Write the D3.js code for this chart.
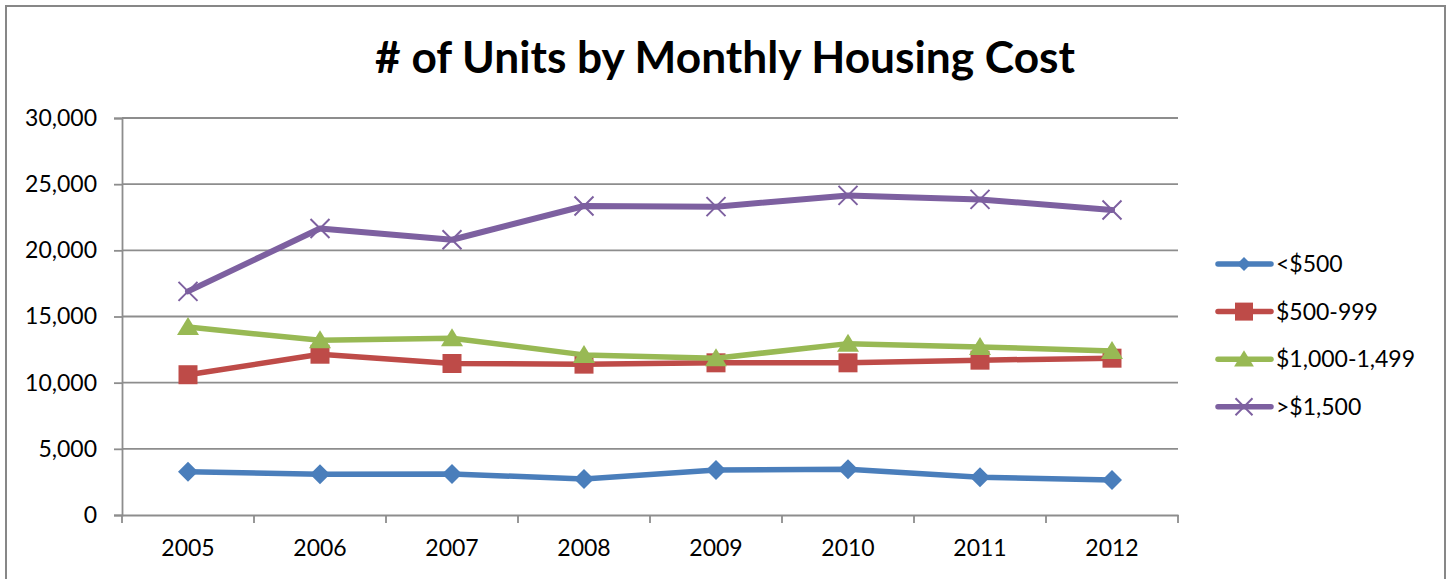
<!DOCTYPE html>
<html>
<head>
<meta charset="utf-8">
<script src="https://cdn.jsdelivr.net/npm/d3@7"></script>
<style>
  html, body { margin: 0; padding: 0; background: #fff; }
  svg { display: block; font-family: Lato, "Open Sans", sans-serif; }
</style>
</head>
<body>
<svg id="chart" width="1448" height="579"></svg>
<script>
// Housing units by monthly cost bracket, 2005-2012
const years = ["2005", "2006", "2007", "2008", "2009", "2010", "2011", "2012"];
const seriesNames = ["<$500", "$500-999", "$1,000-1,499", ">$1,500"];
const under500 = [3270, 3070, 3100, 2720, 3400, 3450, 2850, 2650];
const from500to999 = [10600, 12150, 11450, 11400, 11500, 11500, 11700, 11850];
const from1000to1499 = [14200, 13200, 13350, 12100, 11850, 12950, 12700, 12400];
const over1500 = [16900, 21650, 20800, 23350, 23300, 24150, 23850, 23050];
const yTicks = [0, 5000, 10000, 15000, 20000, 25000, 30000];
const titleText = "# of Units by Monthly Housing Cost";

const colors = ["#4a7ebb", "#be4b48", "#98b954", "#7d60a0"];
const markers = ["diamond", "square", "triangle", "cross"];
const values = [under500, from500to999, from1000to1499, over1500];

const svg = d3.select("#chart");
const W = 1448, H = 579;
const plot = { left: 122, right: 1178, top: 118, bottom: 515 };
const gridColor = "#8d8d8d";

// outer chart frame
svg.append("rect")
  .attr("x", 6).attr("y", 6)
  .attr("width", 1439).attr("height", H + 10)
  .attr("fill", "#fff")
  .attr("stroke", "#878787").attr("stroke-width", 2);

const x = d3.scaleBand().domain(years).range([plot.left, plot.right]).padding(0);
const cx = d => x(d) + x.bandwidth() / 2;
const y = d3.scaleLinear().domain([0, 30000]).range([plot.bottom, plot.top]);

// title
svg.append("text")
  .attr("x", 725).attr("y", 73)
  .attr("text-anchor", "middle")
  .attr("font-size", 44).attr("font-weight", "bold")
  .attr("fill", "#000")
  .attr("textLength", 700).attr("lengthAdjust", "spacingAndGlyphs")
  .text(titleText);

// horizontal gridlines
svg.append("g").selectAll("line")
  .data(yTicks.filter(t => t > 0))
  .join("line")
  .attr("x1", plot.left).attr("x2", plot.right)
  .attr("y1", d => y(d)).attr("y2", d => y(d))
  .attr("stroke", gridColor).attr("stroke-width", 1.8);

// y axis
const yAxis = d3.axisLeft(y)
  .tickValues(yTicks)
  .tickSize(8)
  .tickPadding(17)
  .tickFormat(d3.format(","));
const gy = svg.append("g").attr("transform", `translate(${plot.left},0)`).call(yAxis);
gy.select(".domain").attr("stroke", gridColor).attr("stroke-width", 1.8);
gy.selectAll(".tick line").attr("stroke", gridColor).attr("stroke-width", 1.8);
gy.selectAll(".tick text")
  .attr("font-family", "Lato, sans-serif")
  .attr("font-size", 23).attr("fill", "#000");

// x axis: category labels centred, tick marks on band edges
const xAxis = d3.axisBottom(x).tickSize(0).tickPadding(25);
const gx = svg.append("g").attr("transform", `translate(0,${plot.bottom})`).call(xAxis);
gx.select(".domain").attr("stroke", gridColor).attr("stroke-width", 1.8);
gx.selectAll(".tick text")
  .attr("font-family", "Lato, sans-serif")
  .attr("font-size", 23).attr("fill", "#000");
const edges = years.map(d => x(d)).concat([plot.right]);
gx.append("g").selectAll("line")
  .data(edges)
  .join("line")
  .attr("x1", d => d).attr("x2", d => d)
  .attr("y1", 0).attr("y2", 8)
  .attr("stroke", gridColor).attr("stroke-width", 1.8);

// marker shapes
function markerPath(type, s) {
  const p = d3.path();
  if (type === "diamond") {
    p.moveTo(0, -s); p.lineTo(s, 0); p.lineTo(0, s); p.lineTo(-s, 0); p.closePath();
  } else if (type === "square") {
    p.rect(-s, -s, 2 * s, 2 * s);
  } else if (type === "triangle") {
    p.moveTo(0, -s); p.lineTo(s * 1.1, s * 0.8); p.lineTo(-s * 1.1, s * 0.8); p.closePath();
  } else {
    p.moveTo(-s, -s); p.lineTo(s, s); p.moveTo(s, -s); p.lineTo(-s, s);
  }
  return p.toString();
}
function drawMarker(g, type, color, s) {
  const m = g.append("path").attr("d", markerPath(type, s));
  if (type === "cross") {
    m.attr("fill", "none").attr("stroke", color).attr("stroke-width", 2);
  } else {
    m.attr("fill", color);
  }
  return m;
}
const markerSize = { diamond: 10, square: 9.5, triangle: 10, cross: 9.5 };

const line = d3.line().x((d, i) => cx(years[i])).y(d => y(d));

seriesNames.forEach((name, si) => {
  const g = svg.append("g");
  g.append("path")
    .datum(values[si])
    .attr("d", line)
    .attr("fill", "none")
    .attr("stroke", colors[si])
    .attr("stroke-width", si === 3 ? 6 : 5.5)
    .attr("stroke-linejoin", "round")
    .attr("stroke-linecap", "round");
  values[si].forEach((v, i) => {
    const mg = g.append("g").attr("transform", `translate(${cx(years[i])},${y(v)})`);
    drawMarker(mg, markers[si], colors[si], markerSize[markers[si]]);
  });
});

// legend
const legend = svg.append("g");
const legendSize = { diamond: 7, square: 9, triangle: 9, cross: 8.5 };
seriesNames.forEach((name, si) => {
  const ly = 264 + si * 47.6;
  const g = legend.append("g").attr("transform", `translate(0,${ly})`);
  g.append("line")
    .attr("x1", 1218).attr("x2", 1271)
    .attr("y1", 0).attr("y2", 0)
    .attr("stroke", colors[si]).attr("stroke-width", 5.5)
    .attr("stroke-linecap", "round");
  const mg = g.append("g").attr("transform", "translate(1244,0)");
  drawMarker(mg, markers[si], colors[si], legendSize[markers[si]]);
  g.append("text")
    .attr("x", 1276).attr("y", 8)
    .attr("font-size", 23).attr("fill", "#000")
    .text(name);
});
</script>
</body>
</html>
